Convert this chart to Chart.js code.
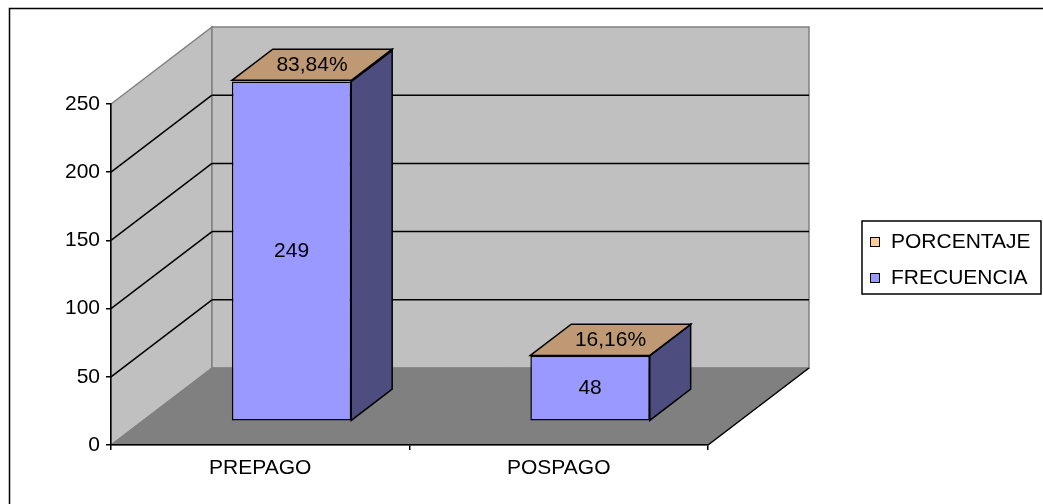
<!DOCTYPE html>
<html>
<head>
<meta charset="utf-8">
<script src="https://cdn.jsdelivr.net/npm/chart.js@4.4.1/dist/chart.umd.min.js"></script>
<style>
  html, body { margin: 0; padding: 0; background: #fff; }
  #wrap { width: 1043px; height: 504px; position: relative; }
</style>
</head>
<body>
<div id="wrap"><canvas id="chart"></canvas></div>
<script>
const categories = ['PREPAGO', 'POSPAGO'];
const frecuencia = [249, 48];
const porcentaje = [0.8384, 0.1616];
const yTicks = [0, 50, 100, 150, 200, 250];

const FONT = '"Liberation Sans", Arial, Helvetica, sans-serif';
const FONT_SIZE = 21;
const DEPTH = { x: 101, y: -77 };  // floor depth, front axis -> back wall
const BAR_FRONT = 0.31;            // bars sit this far into the floor
const BAR_DEPTH = 0.405;           // and are this deep

const BLUE = { front: '#9999FF', side: '#4D4D80', top: '#7373BF' };
const ORANGE = { front: '#FFCC99', side: '#80664D', top: '#BF9973' };

function poly(ctx, pts, fill, stroke, lw) {
  ctx.beginPath();
  ctx.moveTo(pts[0][0], pts[0][1]);
  for (let i = 1; i < pts.length; i++) ctx.lineTo(pts[i][0], pts[i][1]);
  ctx.closePath();
  if (fill) { ctx.fillStyle = fill; ctx.fill(); }
  if (stroke) { ctx.strokeStyle = stroke; ctx.lineWidth = lw || 1; ctx.stroke(); }
}

function line(ctx, x1, y1, x2, y2, color, lw) {
  ctx.beginPath();
  ctx.moveTo(x1, y1);
  ctx.lineTo(x2, y2);
  ctx.strokeStyle = color;
  ctx.lineWidth = lw || 1;
  ctx.stroke();
}

const pct = v => (v * 100).toFixed(2).replace('.', ',') + '%';

const box3d = {
  id: 'box3d',
  beforeDraw(chart) {
    const { ctx, chartArea: a, scales: { y } } = chart;
    const top = y.getPixelForValue(y.max);
    const bot = y.getPixelForValue(0);
    const dx = DEPTH.x, dy = DEPTH.y;
    ctx.save();
    // chart frame
    ctx.strokeStyle = '#000';
    ctx.lineWidth = 1.5;
    ctx.strokeRect(9.5, 8.5, 1060, 520);

    // side wall, back wall, floor
    poly(ctx, [[a.left, top], [a.left, bot], [a.left + dx, bot + dy], [a.left + dx, top + dy]], '#C0C0C0', '#808080', 1.5);
    poly(ctx, [[a.left + dx, top + dy], [a.right + dx, top + dy], [a.right + dx, bot + dy], [a.left + dx, bot + dy]], '#C0C0C0', '#808080', 1.5);
    poly(ctx, [[a.left, bot], [a.right, bot], [a.right + dx, bot + dy], [a.left + dx, bot + dy]], '#808080', '#808080', 1);
    line(ctx, a.right, bot, a.right + dx, bot + dy, '#000', 1.5);

    // gridlines run along the side wall and across the back wall
    y.ticks.forEach(t => {
      if (t.value <= y.min || t.value >= y.max) return;
      const py = y.getPixelForValue(t.value);
      line(ctx, a.left, py, a.left + dx, py + dy, '#000', 1.5);
      line(ctx, a.left + dx, py + dy, a.right + dx, py + dy, '#000', 1.5);
    });
    ctx.restore();
  },
  beforeDatasetsDraw(chart) {
    chart.ctx.save();
    chart.ctx.translate(DEPTH.x * BAR_FRONT, DEPTH.y * BAR_FRONT);
  },
  afterDatasetsDraw(chart) {
    const ctx = chart.ctx;
    const bx = DEPTH.x * BAR_DEPTH, by = DEPTH.y * BAR_DEPTH;
    const sets = chart.data.datasets;
    categories.forEach((c, i) => {
      sets.forEach((ds, d) => {
        const el = chart.getDatasetMeta(d).data[i];
        const { x, y, base, width } = el.getProps(['x', 'y', 'base', 'width'], true);
        const r = x + width / 2, l = x - width / 2;
        poly(ctx, [[r, y], [r + bx, y + by], [r + bx, base + by], [r, base]], ds.sideColor, '#000', 1.5);
        if (d === sets.length - 1) {
          poly(ctx, [[l, y], [l + bx, y + by], [r + bx, y + by], [r, y]], ds.topColor, '#000', 1.5);
        }
      });
    });

    ctx.fillStyle = '#000';
    ctx.font = FONT_SIZE + 'px ' + FONT;
    ctx.textAlign = 'center';
    ctx.textBaseline = 'middle';
    categories.forEach((c, i) => {
      const f = chart.getDatasetMeta(0).data[i];
      ctx.fillText(String(frecuencia[i]), f.x, (f.y + f.base) / 2);
      const p = chart.getDatasetMeta(1).data[i];
      ctx.fillText(pct(porcentaje[i]), p.x + bx / 2, p.y + by / 2);
    });
    ctx.restore();
  },
  afterDraw(chart) {
    // legend box, last series listed first
    const ctx = chart.ctx;
    const sets = chart.data.datasets.slice().reverse();
    ctx.save();
    ctx.strokeStyle = '#000';
    ctx.lineWidth = 1.5;
    ctx.strokeRect(862, 221, 179, 73);
    ctx.font = FONT_SIZE + 'px ' + FONT;
    ctx.textAlign = 'left';
    ctx.textBaseline = 'middle';
    sets.forEach((ds, k) => {
      const cy = 242 + k * 36;
      ctx.fillStyle = ds.backgroundColor;
      ctx.fillRect(870.5, cy - 4.5, 9, 9);
      ctx.strokeStyle = '#000';
      ctx.lineWidth = 1;
      ctx.strokeRect(870.5, cy - 4.5, 9, 9);
      ctx.fillStyle = '#000';
      ctx.fillText(ds.label, 891, cy);
    });
    ctx.restore();
  }
};

const axisFont = { family: FONT, size: FONT_SIZE };

new Chart(document.getElementById('chart'), {
  type: 'bar',
  data: {
    labels: categories,
    datasets: [
      {
        label: 'FRECUENCIA', data: frecuencia,
        backgroundColor: BLUE.front, sideColor: BLUE.side, topColor: BLUE.top,
        borderColor: '#000', borderWidth: 1.5, borderSkipped: false, clip: false
      },
      {
        label: 'PORCENTAJE', data: porcentaje,
        backgroundColor: ORANGE.front, sideColor: ORANGE.side, topColor: ORANGE.top,
        borderWidth: 0, clip: false
      }
    ]
  },
  options: {
    responsive: true,
    maintainAspectRatio: false,
    animation: false,
    layout: { padding: { top: 104, right: 335, bottom: 0, left: 0 } },
    datasets: { bar: { barPercentage: 0.4, categoryPercentage: 1 } },
    plugins: { legend: { display: false }, tooltip: { enabled: false } },
    scales: {
      x: {
        stacked: true,
        grid: { drawOnChartArea: false, drawTicks: true, tickLength: 5, color: '#000', lineWidth: 1.5, offset: true },
        border: { display: true, color: '#000', width: 1.5 },
        ticks: { color: '#000', font: axisFont, padding: 6, maxRotation: 0 },
        afterFit: s => { s.height = 59; }
      },
      y: {
        stacked: true,
        min: 0, max: 250,
        afterBuildTicks: s => { s.ticks = yTicks.map(v => ({ value: v })); },
        grid: { drawOnChartArea: false, drawTicks: true, tickLength: 5, color: '#000', lineWidth: 1.5 },
        border: { display: true, color: '#000', width: 1.5 },
        ticks: { color: '#000', font: axisFont, padding: 6 },
        afterFit: s => { s.width = 111; }
      }
    }
  },
  plugins: [box3d]
});
</script>
</body>
</html>
